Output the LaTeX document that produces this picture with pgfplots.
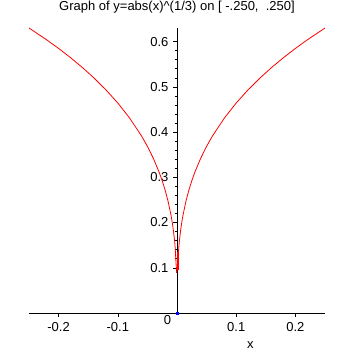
\documentclass[border=0pt]{standalone}
\usepackage{pgfplots}
\pgfplotsset{compat=1.18}
\usepackage{fontspec}
\setmainfont{Liberation Sans}
\begin{document}
\begin{tikzpicture}
\begin{axis}[
  at={(0,0)}, anchor=south west,
  scale only axis, width=296pt, height=285pt,
  xmin=-0.25, xmax=0.25, ymin=0, ymax=0.63,
  axis lines=middle,
  axis line style={black, line width=0.6pt, -},
  xtick={-0.2,-0.1,0.1,0.2},
  ytick={0.1,0.2,0.3,0.4,0.5,0.6},
  minor tick num=4,
  tick align=outside,
  major tick length=4pt, minor tick length=2.5pt,
  tick style={black, line width=0.5pt},
  every tick label/.append style={font=\fontsize{13}{15}\selectfont},
  /pgf/number format/assume math mode=true,
  /pgf/number format/fixed,
  /pgf/number format/precision=1,
  xticklabel style={yshift=-2pt},
  yticklabel style={xshift=-1pt},
  clip=false,
]
\addplot[red, line width=0.8pt] coordinates {
(-0.25,0.630) (-0.22,0.6037) (-0.2,0.5848) (-0.18,0.5646) (-0.16,0.5429)
(-0.14,0.5192) (-0.12,0.4932) (-0.1,0.4642) (-0.08,0.4309) (-0.06,0.3915)
(-0.05,0.3684) (-0.04,0.3420) (-0.03,0.3107) (-0.025,0.2924) (-0.02,0.2714)
(-0.015,0.2466) (-0.01,0.2154) (-0.008,0.2) (-0.006,0.1817) (-0.004,0.1587)
(-0.0033,0.1489) (-0.0007,0.0888) (0.0012,0.1063) (0.0022,0.1301)
(0.003,0.1442) (0.004,0.1587) (0.006,0.1817) (0.008,0.2) (0.01,0.2154)
(0.015,0.2466) (0.02,0.2714) (0.025,0.2924) (0.03,0.3107) (0.04,0.3420)
(0.05,0.3684) (0.06,0.3915) (0.08,0.4309) (0.1,0.4642) (0.12,0.4932)
(0.14,0.5192) (0.16,0.5429) (0.18,0.5646) (0.2,0.5848) (0.22,0.6037) (0.25,0.630)
};
\addplot[red, line width=1.6pt] coordinates {(0.0012,0.095) (0.0012,0.134)};
\addplot[only marks, mark=square*, mark size=1.2pt, blue] coordinates {(0,0)};
\node[anchor=north east, font=\fontsize{13}{15}\selectfont, inner sep=1pt] at (axis cs:-0.008,-0.002) {0};
\node[anchor=north, font=\fontsize{13}{15}\selectfont] at (axis cs:0.124,-0.055) {x};
\node[anchor=center, font=\fontsize{13}{15}\selectfont] at (axis cs:0.0,0.675) {Graph of y=abs(x)\^{}(1/3) on [ -.250,\ \ .250]};
\end{axis}
\pgfresetboundingbox
\path[use as bounding box] (-29pt,-42pt) rectangle (326pt,313pt);
\end{tikzpicture}
\end{document}
